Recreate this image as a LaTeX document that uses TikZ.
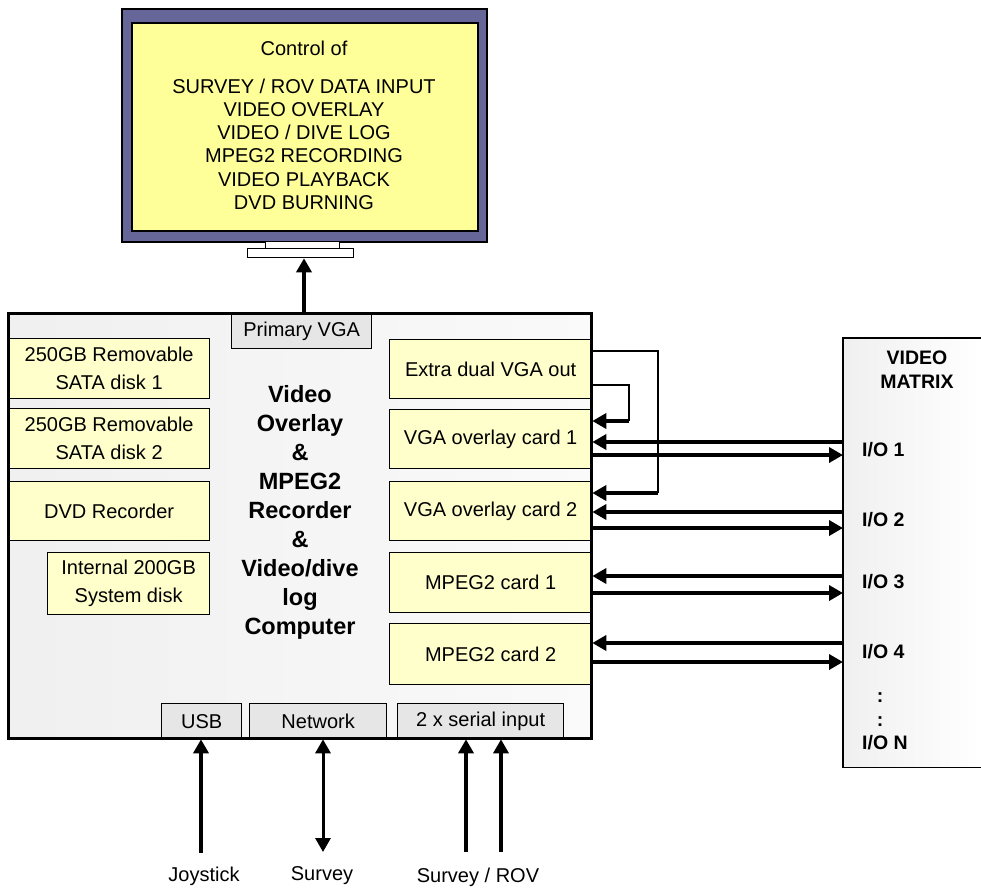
\documentclass[tikz,border=0pt]{standalone}
\usepackage{fontspec}
\setmainfont{Liberation Sans}
\usetikzlibrary{arrows.meta}
\definecolor{monframe}{HTML}{666699}
\definecolor{screenfill}{HTML}{FFFF99}
\definecolor{cardfill}{HTML}{FFFFCC}
\definecolor{portfill}{HTML}{E6E6E6}
\begin{document}
\begin{tikzpicture}[x=1pt,y=-1pt,
  card/.style={draw, line width=1.3pt, fill=cardfill, inner sep=0pt, anchor=north west, align=center,
    font=\fontsize{20}{28}\selectfont},
  port/.style={draw, line width=1.3pt, fill=portfill, inner sep=0pt, anchor=north west,
    font=\fontsize{20}{24}\selectfont},
  plain/.style={inner sep=0pt, font=\fontsize{20}{24}\selectfont},
  boldlbl/.style={inner sep=0pt, font=\fontsize{19.5}{24}\selectfont\bfseries},
  bigarrow/.style={-{Triangle[length=14pt,width=15pt]}, line width=3.5pt},
  thinline/.style={line width=1.5pt}]
\useasboundingbox (0,0) rectangle (981,889);
\fill[white] (0,0) rectangle (981,889);

% monitor
\node[draw, line width=1.5pt, fill=monframe, inner sep=0pt, anchor=north west,
  minimum width=365, minimum height=233] (monitor) at (121,8) {};
\node[draw, line width=1.5pt, fill=screenfill, inner sep=0pt, anchor=north west,
  minimum width=346, minimum height=208] (screen) at (131,22) {};
\node[draw, line width=1.3pt, fill=white, inner sep=0pt, anchor=north west,
  minimum width=74, minimum height=7] (neck) at (265,241) {};
\node[draw, line width=1.3pt, fill=white, inner sep=0pt, anchor=north west,
  minimum width=106, minimum height=9] (base) at (247,248) {};
\node[align=center, inner sep=0pt, font=\fontsize{20}{23.2}\selectfont] (screentext) at (304,125)
  {Control of\\[15pt]SURVEY / ROV DATA INPUT\\VIDEO OVERLAY\\VIDEO / DIVE LOG\\MPEG2 RECORDING\\VIDEO PLAYBACK\\DVD BURNING};

% computer
\node[inner sep=0pt, anchor=north west, left color=gray!12, right color=gray!4,
  minimum width=583, minimum height=425] (comp) at (8,313) {};

\node[card, minimum width=201, minimum height=60] (disk1) at (8,338) {250GB Removable\\SATA disk 1};
\node[card, minimum width=201, minimum height=60] (disk2) at (8,408) {250GB Removable\\SATA disk 2};
\node[card, minimum width=201, minimum height=59] (dvd) at (8,481) {DVD Recorder};
\node[card, minimum width=162, minimum height=62] (sysdisk) at (47,552) {Internal 200GB\\System disk};

\node[card, minimum width=202, minimum height=59] (extra) at (389,339) {Extra dual VGA out};
\node[card, minimum width=202, minimum height=59] (vga1) at (389,409) {VGA overlay card 1};
\node[card, minimum width=202, minimum height=59] (vga2) at (389,481) {VGA overlay card 2};
\node[card, minimum width=202, minimum height=60] (mpeg1) at (389,552) {MPEG2 card 1};
\node[card, minimum width=202, minimum height=61] (mpeg2) at (389,623) {MPEG2 card 2};

\node[port, minimum width=140, minimum height=35] (vga) at (231,313) {Primary VGA};
\node[port, minimum width=80, minimum height=35] (usb) at (161,703) {USB};
\node[port, minimum width=137, minimum height=35] (net) at (249,703) {Network};
\node[port, minimum width=166, minimum height=35] (serial) at (397,703) {2 x serial input};

\draw[line width=3pt] (comp.north west) rectangle (comp.south east);

\node[align=center, inner sep=0pt, font=\fontsize{23.5}{29}\selectfont\bfseries] (title) at (300,512)
  {Video\\Overlay\\\&\\MPEG2\\Recorder\\\&\\Video/dive\\log\\Computer};

% video matrix (right side runs off the picture)
\node[inner sep=0pt, anchor=north west, left color=gray!12, right color=white,
  minimum width=138, minimum height=429] (matrix) at (843,338) {};
\draw[line width=1.3pt] (matrix.north east) -- (matrix.north west) -- (matrix.south west) -- (matrix.south east);
\node[boldlbl, align=center, font=\fontsize{19.5}{24}\selectfont\bfseries] (mtitle) at (917,370) {VIDEO\\MATRIX};
\node[boldlbl, anchor=west] (io1) at (862,450) {I/O 1};
\node[boldlbl, anchor=west] (io2) at (862,520) {I/O 2};
\node[boldlbl, anchor=west] (io3) at (862,582) {I/O 3};
\node[boldlbl, anchor=west] (io4) at (862,652) {I/O 4};
\node[boldlbl] (dot1) at (880,698) {:};
\node[boldlbl] (dot2) at (880,722) {:};
\node[boldlbl, anchor=west] (ion) at (862,743) {I/O N};

% matrix connections
\foreach \card/\yin/\yout in {vga1/442/455, vga2/512/528, mpeg1/576/593, mpeg2/643/662}{
  \coordinate (pin) at (matrix.west |- 0,\yin);
  \coordinate (pout) at (matrix.west |- 0,\yout);
  \draw[bigarrow] (pin) -- (pin -| \card.east);
  \draw[bigarrow] (pout -| \card.east) -- (pout);
}

% loop-back from extra dual VGA out
\coordinate (loopA) at (658,351);
\coordinate (loopB) at (629,385);
\coordinate (loopA2) at (658,493);
\coordinate (loopB2) at (629,421);
\draw[thinline] (loopA -| extra.east) -- (loopA) -- (loopA2);
\draw[bigarrow] (loopA2) -- (loopA2 -| vga2.east);
\draw[thinline] (loopB -| extra.east) -- (loopB) -- (loopB2);
\draw[bigarrow] (loopB2) -- (loopB2 -| vga1.east);

% monitor connection
\coordinate (vgaup) at (304,313);
\draw[bigarrow, line width=4pt] (vgaup) -- (vgaup |- base.south);

% bottom inputs
\node[plain] (joy) at (204,876) {Joystick};
\node[plain] (survey) at (322,876) {Survey};
\node[plain] (rov) at (478,877) {Survey / ROV};
\coordinate (joyend) at (201,853);
\coordinate (netend) at (323,852);
\coordinate (ser1end) at (466,852);
\coordinate (ser2end) at (501,852);
\draw[bigarrow, line width=4.5pt] (joyend) -- (joyend |- usb.south);
\draw[{Triangle[length=14pt,width=15pt]}-{Triangle[length=14pt,width=15pt]}, line width=3pt] (netend |- net.south) -- (netend);
\draw[bigarrow, line width=4.5pt] (ser1end) -- (ser1end |- serial.south);
\draw[bigarrow, line width=3.2pt] (ser2end) -- (ser2end |- serial.south);
\end{tikzpicture}
\end{document}
